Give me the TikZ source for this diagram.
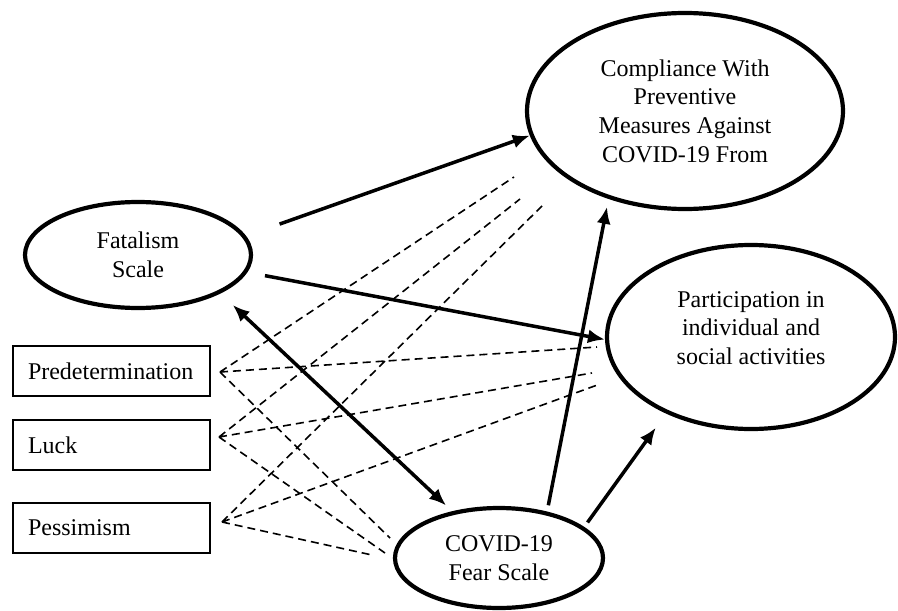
\documentclass[tikz,border=0pt]{standalone}
\usepackage{fontspec}
\setmainfont{Liberation Serif}
\usetikzlibrary{shapes.geometric, positioning, arrows.meta, calc}

\begin{document}
\begin{tikzpicture}[x=0.5pt, y=-0.5pt,
        font=\fontsize{12}{14.3}\selectfont,
        >={Latex[length=8.5pt,width=7pt]},
        latent/.style={ellipse, draw, line width=2.1pt, inner sep=0pt, align=center},
        item/.style={rectangle, draw, line width=1.3pt, minimum height=25pt,
            text width=83.5pt, inner xsep=7.5pt, align=left},
        effect/.style={line width=1.75pt, ->},
        corr/.style={line width=0.8pt, dash pattern=on 4pt off 2.5pt}]

        \useasboundingbox (0,0) rectangle (898,610);

        \node[latent, minimum width=113pt, minimum height=53pt] (fatalism) at (138,255) {Fatalism\\Scale};
        \node[latent, minimum width=158pt, minimum height=98pt] (comp) at (685,111)
            {Compliance With\\Preventive\\Measures Against\\COVID-19 From};
        \node[latent, minimum width=144pt, minimum height=92pt] (part) at (751,337) {};
        \node[align=center] (parttext) at ([yshift=4.5pt]part.center)
            {Participation in\\individual and\\social activities};
        \node[latent, minimum width=104pt, minimum height=50pt] (fear) at (499,558) {COVID-19\\Fear Scale};

        \node[item] (pred) at (111.5,371) {Predetermination};
        \node[item] (luck) at (111.5,445) {Luck};
        \node[item] (pess) at (111.5,528) {Pessimism};

        \coordinate (p0) at (220,372);
        \coordinate (l0) at (219,437);
        \coordinate (s0) at (222,522);
        \coordinate (c1) at (514,177);
        \coordinate (c2) at (520,199);
        \coordinate (c3) at (542,206);
        \coordinate (a1) at (597,347);
        \coordinate (a2) at (592,373);
        \coordinate (a3) at (600,384);
        \coordinate (f1) at (390,538);
        \coordinate (f2) at (385,553);
        \coordinate (f3) at (372,555);

        \draw[corr]
            (p0) -- (c1) (p0) -- (a1) (p0) -- (f1)
            (l0) -- (c2) (l0) -- (a2) (l0) -- (f2)
            (s0) -- (c3) (s0) -- (a3) (s0) -- (f3);

        \draw
            (fatalism.10) edge[effect, shorten <=17.8pt] (comp.189)
            (fatalism.-9.5) edge[effect, shorten <=9pt] (part.181)
            (fatalism.-25) edge[effect, <->, shorten <=8.4pt, shorten >=4.2pt] (fear.135)
            (fear.44) edge[effect, shorten <=3.2pt, shorten >=4pt] (comp.229)
            (fear.20) edge[effect, shorten <=2.8pt, shorten >=8.7pt] (part.222)
            ;
    \end{tikzpicture}
\end{document}
